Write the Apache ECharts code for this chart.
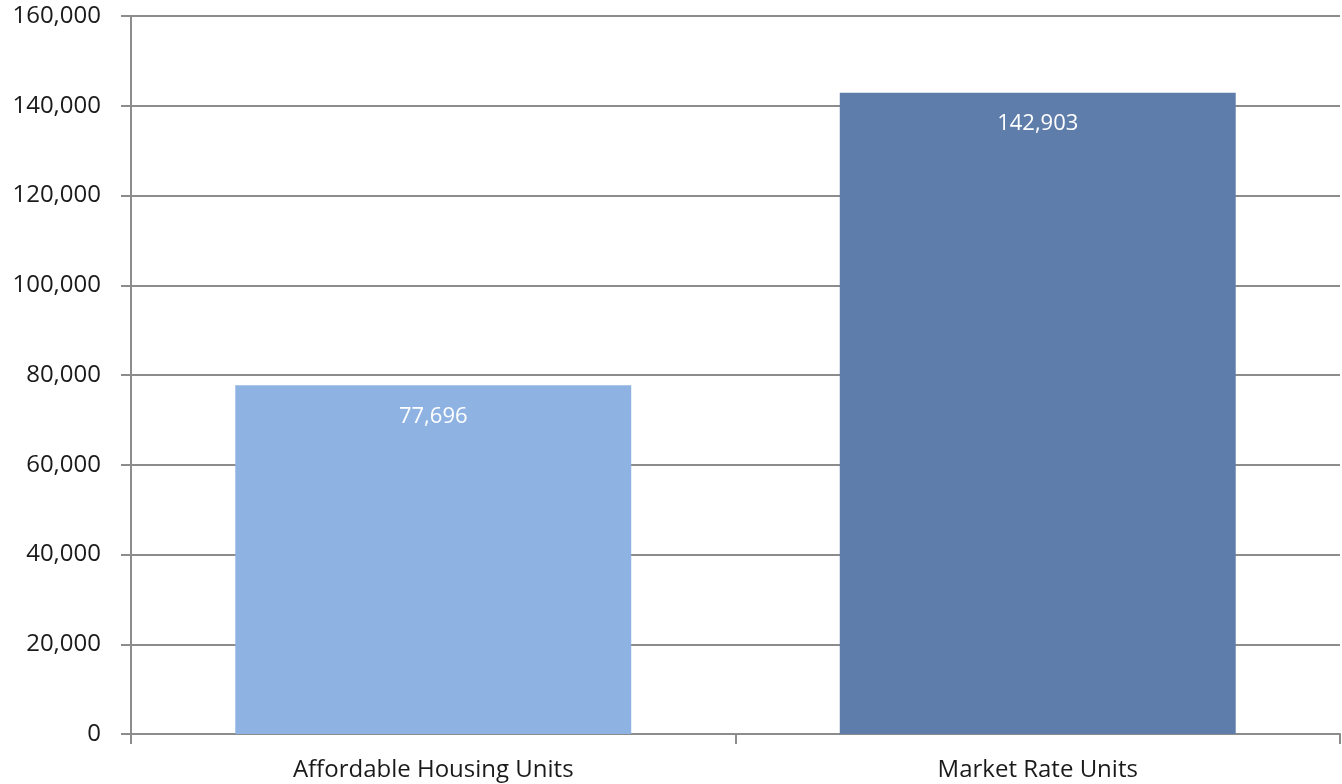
<!DOCTYPE html>
<html>
<head>
<meta charset="utf-8">
<style>
  html, body { margin: 0; padding: 0; background: #fff; }
  #chart { width: 1342px; height: 784px; }
</style>
<script src="https://cdn.jsdelivr.net/npm/echarts@6/dist/echarts.min.js"></script>
</head>
<body>
<div id="chart"></div>
<script>
const categories = ["Affordable Housing Units", "Market Rate Units"];
const unitValues = [77696, 142903];
const barColors = ["#8eb3e2", "#5e7dab"];

const chart = echarts.init(document.getElementById("chart"));
const fmt = (v) => Number(v).toLocaleString("en-US");

const option = {
  animation: false,
  grid: { left: 131, right: 2, top: 16, bottom: 50 },
  xAxis: {
    type: "category",
    data: categories,
    axisLine: { lineStyle: { color: "#8c8c8c", width: 2 } },
    axisTick: { show: true, length: 10, lineStyle: { color: "#8c8c8c", width: 2 } },
    axisLabel: { color: "#1a1a1a", fontSize: 24, fontFamily: "Open Sans", margin: 24 }
  },
  yAxis: {
    type: "value",
    min: 0,
    max: 160000,
    interval: 20000,
    axisLine: { show: true, lineStyle: { color: "#8c8c8c", width: 2 } },
    axisTick: { show: true, length: 10, lineStyle: { color: "#8c8c8c", width: 2 } },
    splitLine: { lineStyle: { color: "#8c8c8c", width: 2 } },
    axisLabel: { color: "#1a1a1a", fontSize: 24, fontFamily: "Open Sans", margin: 30, formatter: fmt }
  },
  series: [{
    type: "bar",
    barWidth: "65.5%",
    data: unitValues.map((v, i) => ({ value: v, itemStyle: { color: barColors[i] } })),
    label: {
      show: true,
      position: "insideTop",
      distance: 20,
      color: "#ffffff",
      fontSize: 22,
      fontFamily: "Open Sans",
      formatter: (p) => fmt(p.value)
    }
  }]
};

chart.setOption(option);
</script>
</body>
</html>
